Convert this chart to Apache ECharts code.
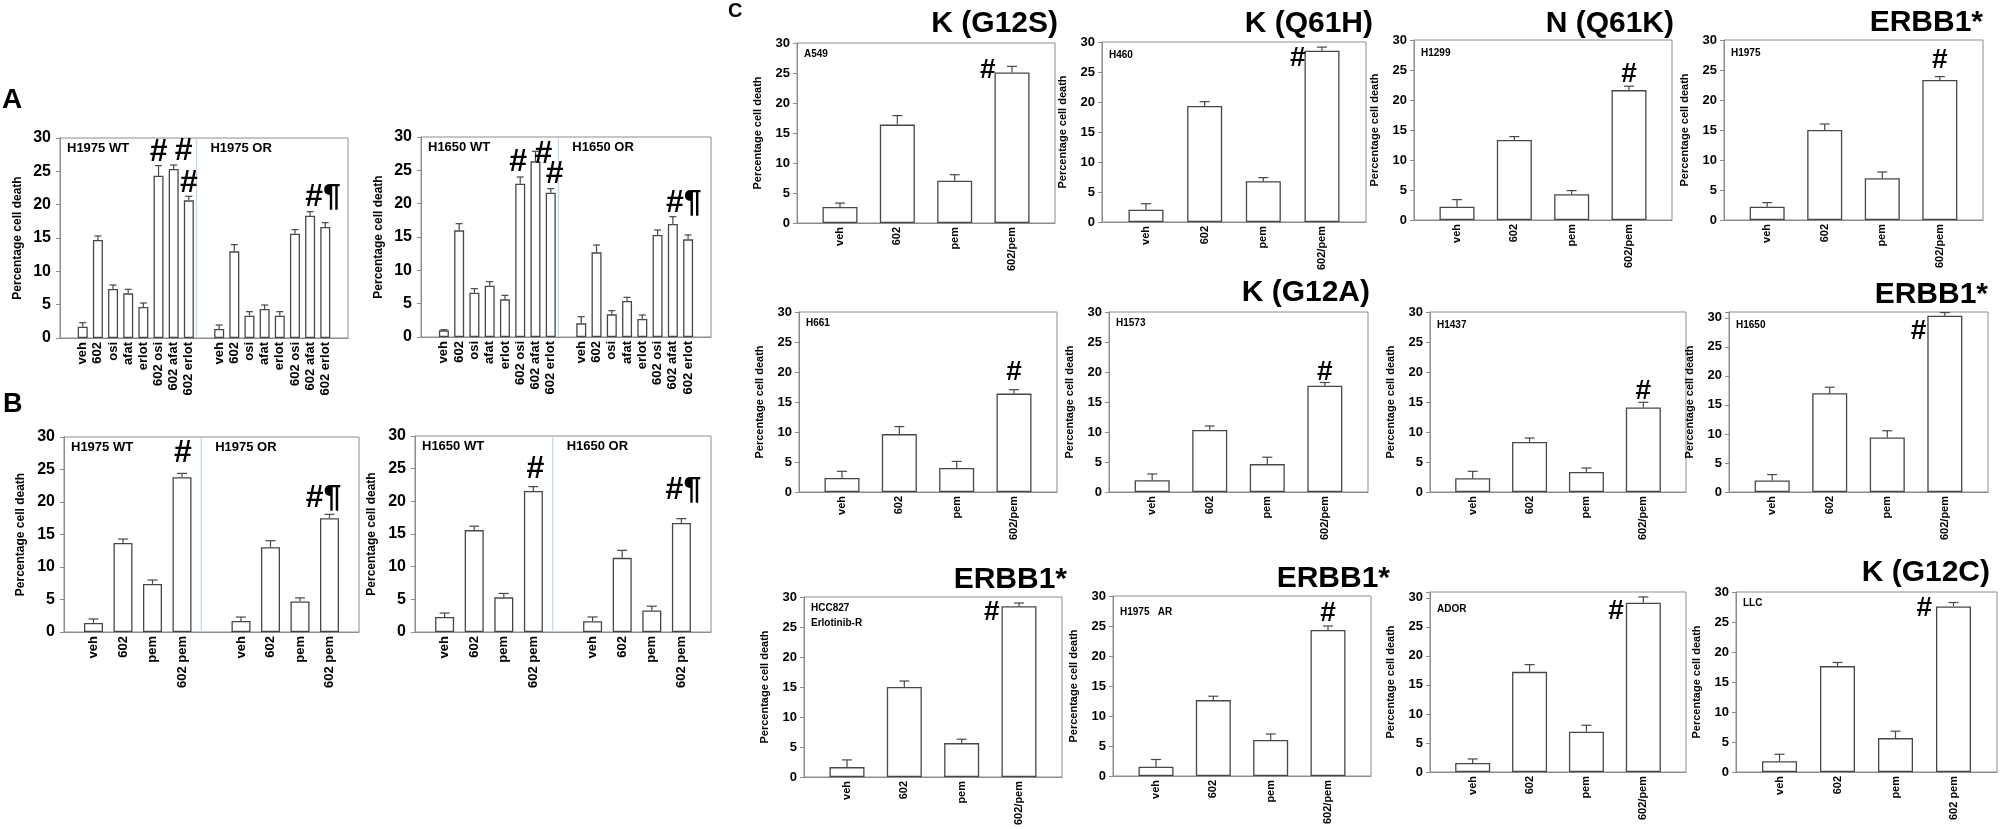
<!DOCTYPE html>
<html>
<head>
<meta charset="utf-8">
<script src="https://cdn.jsdelivr.net/npm/echarts@6/dist/echarts.min.js"></script>
<style>
    html, body { margin: 0; padding: 0; background: #fff; }
    #chart { width: 2008px; height: 829px; }
</style>
</head>
<body>
<div id="chart"></div>
<script>
// treatments on the x axes
const treatA = ['veh', '602', 'osi', 'afat', 'erlot', '602 osi', '602 afat', '602 erlot']
const treatB = ['veh', '602', 'pem', '602 pem']
const treatC = ['veh', '602', 'pem', '602/pem']
const treatLLC = ['veh', '602', 'pem', '602 pem']

// panel A: percentage cell death, mean and error
const h1975WtA = [1.7, 14.7, 7.35, 6.7, 4.65, 24.35, 25.35, 20.65]
const h1975WtAErr = [0.6, 0.6, 0.6, 0.6, 0.6, 1.5, 0.6, 0.6]
const h1975OrA = [1.35, 13.0, 3.35, 4.35, 3.35, 15.65, 18.35, 16.65]
const h1975OrAErr = [0.6, 1.0, 0.6, 0.6, 0.6, 0.6, 0.6, 0.65]
const h1650WtA = [1.0, 16.0, 6.65, 7.7, 5.65, 23.0, 26.35, 21.65]
const h1650WtAErr = [0.1, 1.0, 0.6, 0.6, 0.6, 1.0, 1.5, 0.6]
const h1650OrA = [2.05, 12.7, 3.4, 5.4, 2.7, 15.3, 16.95, 14.65]
const h1650OrAErr = [1.0, 1.1, 0.55, 0.55, 0.6, 0.75, 1.1, 0.65]

// panel B
const h1975WtB = [1.4, 13.7, 7.4, 23.8]
const h1975WtBErr = [0.6, 0.6, 0.6, 0.6]
const h1975OrB = [1.7, 13.05, 4.7, 17.5]
const h1975OrBErr = [0.6, 1.0, 0.55, 0.6]
const h1650WtB = [2.3, 15.6, 5.3, 21.6]
const h1650WtBErr = [0.6, 0.6, 0.6, 0.65]
const h1650OrB = [1.65, 11.35, 3.3, 16.7]
const h1650OrBErr = [0.65, 1.15, 0.65, 0.65]

// panel C
const a549 = [2.67, 16.4, 7.05, 25.1]
const a549Err = [0.65, 1.5, 1.0, 1.0]
const h460 = [2.05, 19.35, 6.8, 28.55]
const h460Err = [1.0, 0.7, 0.6, 0.6]
const h1299 = [2.2, 13.35, 4.3, 21.65]
const h1299Err = [1.2, 0.55, 0.6, 0.65]
const h1975 = [2.2, 15.0, 6.95, 23.35]
const h1975Err = [0.7, 1.0, 1.05, 0.55]
const h661 = [2.35, 9.65, 4.0, 16.4]
const h661Err = [1.1, 1.25, 1.1, 0.65]
const h1573 = [1.95, 10.35, 4.65, 17.7]
const h1573Err = [1.05, 0.65, 1.15, 0.55]
const h1437 = [2.3, 8.35, 3.35, 14.1]
const h1437Err = [1.15, 0.65, 0.65, 0.85]
const h1650 = [2.0, 17.0, 9.4, 30.35]
const h1650Err = [1.0, 1.05, 1.15, 0.55]
const hcc827 = [1.65, 15.0, 5.65, 28.45]
const hcc827Err = [1.2, 1.0, 0.65, 0.55]
const h1975ar = [1.55, 12.65, 6.0, 24.35]
const h1975arErr = [1.2, 0.65, 1.0, 0.65]
const ador = [1.55, 17.25, 6.95, 29.15]
const adorErr = [0.7, 1.25, 1.1, 1.0]
const llc = [1.8, 17.65, 5.65, 27.6]
const llcErr = [1.15, 0.6, 1.15, 0.65]

// significance marks: [group, bar, symbol]
const marksA1975 = [[0, 5, '#'], [0, 6, '#'], [0, 7, '#'], [1, 6, '#¶']]
const marksA1650 = [[0, 5, '#'], [0, 6, '#'], [0, 7, '#'], [1, 6, '#¶']]
const marksB = [[0, 3, '#'], [1, 3, '#¶']]
const marksC = [[0, 3, '#']]

const FONT = '"Liberation Sans", Arial, Helvetica, sans-serif'
const FRAME = '#8c8c8c'
const INK = '#474747'

const kinds = {
    A: { n: 19, gap: true, slot: (g, i) => (g ? 10 : 1) + i, bar: 10, cap: 3.5, tickFont: 16, xFont: 13, nameFont: 12, nameGap: 36, margin: 9, markFont: 32, divider: 8.5 },
    B: { n: 11, gap: false, slot: (g, i) => (g ? 6 : 1) + i, bar: 19, cap: 5, tickFont: 16, xFont: 13, nameFont: 12, nameGap: 37, margin: 9, markFont: 32, divider: 4.65 },
    C: { n: 9, gap: true, slot: (g, i) => 1 + 2 * i, bar: 35, cap: 5, tickFont: 13, xFont: 11, nameFont: 11, nameGap: 34, margin: 7, markFont: 28 }
}

const charts = [
    { kind: 'A', box: [60, 138, 288, 200], cats: [treatA, treatA], vals: [h1975WtA, h1975OrA], errs: [h1975WtAErr, h1975OrAErr], names: ['H1975 WT', 'H1975 OR'], marks: marksA1975, place: [['top', 0, 0], ['top', 10, 0], ['top', 0, 0], ['top', 13, -1]] },
    { kind: 'A', box: [421, 137, 290, 200], cats: [treatA, treatA], vals: [h1650WtA, h1650OrA], errs: [h1650WtAErr, h1650OrAErr], names: ['H1650 WT', 'H1650 OR'], marks: marksA1650, place: [['top', -2, -1], ['top', 8, 16], ['top', 4, -1], ['top', 11, 0]] },
    { kind: 'B', box: [64, 437, 295, 195], cats: [treatB, treatB], vals: [h1975WtB, h1975OrB], errs: [h1975WtBErr, h1975OrBErr], names: ['H1975 WT', 'H1975 OR'], marks: marksB, place: [['top', 1, -7], ['top', -6, -3]] },
    { kind: 'B', box: [415, 436, 296, 196], cats: [treatB, treatB], vals: [h1650WtB, h1650OrB], errs: [h1650WtBErr, h1650OrBErr], names: ['H1650 WT', 'H1650 OR'], marks: marksB, place: [['top', 2, -4], ['top', 2, -15]] },

    { kind: 'C', box: [797, 43, 258, 180], cats: [treatC], vals: [a549], errs: [a549Err], cell: ['A549'], cellDy: 11, marks: marksC, place: [['left', 1, -2]] },
    { kind: 'C', box: [1102, 42, 264, 180], cats: [treatC], vals: [h460], errs: [h460Err], cell: ['H460'], cellDy: 13, marks: marksC, place: [['left', 1, 8]] },
    { kind: 'C', box: [1414, 40, 258, 180], cats: [treatC], vals: [h1299], errs: [h1299Err], cell: ['H1299'], cellDy: 13, marks: marksC, place: [['top', 0, 0]] },
    { kind: 'C', box: [1724, 40, 259, 180], cats: [treatC], vals: [h1975], errs: [h1975Err], cell: ['H1975'], cellDy: 13, marks: marksC, place: [['top', 0, -4]] },

    { kind: 'C', box: [799, 312, 258, 180], cats: [treatC], vals: [h661], errs: [h661Err], cell: ['H661'], cellDy: 11, marks: marksC, place: [['top', 0, -5]] },
    { kind: 'C', box: [1109, 312, 259, 180], cats: [treatC], vals: [h1573], errs: [h1573Err], cell: ['H1573'], cellDy: 11, marks: marksC, place: [['top', 0, 2]] },
    { kind: 'C', box: [1430, 312, 256, 180], cats: [treatC], vals: [h1437], errs: [h1437Err], cell: ['H1437'], cellDy: 13, marks: marksC, place: [['top', 0, 1]] },
    { kind: 'C', box: [1729, 312, 259, 180], ymax: 31, cats: [treatC], vals: [h1650], errs: [h1650Err], cell: ['H1650'], cellDy: 13, marks: marksC, place: [['left', -1, 16]] },

    { kind: 'C', box: [804, 597, 258, 180], cats: [treatC], vals: [hcc827], errs: [hcc827Err], cell: ['HCC827', 'Erlotinib-R'], cellDy: 11, marks: marksC, place: [['left', -2, 6]] },
    { kind: 'C', box: [1113, 596, 258, 180], cats: [treatC], vals: [h1975ar], errs: [h1975arErr], cell: ['H1975   AR'], cellDy: 16, marks: marksC, place: [['top', 0, -1]] },
    { kind: 'C', box: [1430, 592, 256, 180], ymax: 31, cats: [treatC], vals: [ador], errs: [adorErr], cell: ['ADOR'], cellDy: 17, marks: marksC, place: [['left', -2, 9]] },
    { kind: 'C', box: [1736, 592, 261, 180], cats: [treatLLC], vals: [llc], errs: [llcErr], cell: ['LLC'], cellDy: 11, marks: marksC, place: [['left', -4, 2]] }
]

const headings = [
    ['K (G12S)', 1058, 24], ['K (Q61H)', 1373, 24], ['N (Q61K)', 1674, 24], ['ERBB1*', 1983, 23],
    ['K (G12A)', 1370, 293], ['ERBB1*', 1988, 295],
    ['ERBB1*', 1067, 580], ['ERBB1*', 1390, 579], ['K (G12C)', 1990, 573]
]
const letters = [['A', 2, 100, 28], ['B', 3, 405, 27], ['C', 728, 11, 20]]

function txt(text, x, y, size, align) {
    return {
        type: 'text', silent: true,
        style: {
            text: text, x: x, y: y, fill: '#000',
            font: 'bold ' + size + 'px ' + FONT,
            textAlign: align, align: align,
            textVerticalAlign: 'middle', verticalAlign: 'middle'
        }
    }
}

const grid = []
const xAxis = []
const yAxis = []
const series = []
const graphic = []

charts.forEach(function (c, idx) {
    const k = kinds[c.kind]
    const ymax = c.ymax || 30
    const cats = new Array(k.n).fill('')
    const bars = new Array(k.n).fill('-')
    const errData = []
    c.vals.forEach(function (vs, g) {
        vs.forEach(function (v, i) {
            const s = k.slot(g, i)
            cats[s] = c.cats[g][i]
            bars[s] = v
            errData.push([s, v, c.errs[g][i]])
        })
    })
    const markData = c.marks.map(function (m) {
        return [k.slot(m[0], m[1]), c.vals[m[0]][m[1]], c.errs[m[0]][m[1]]]
    })

    grid.push({
        left: c.box[0], top: c.box[1], width: c.box[2], height: c.box[3],
        show: true, borderColor: FRAME, borderWidth: 1, backgroundColor: 'transparent',
        containLabel: false, outerBoundsMode: 'none'
    })
    xAxis.push({
        gridIndex: idx, type: 'category', data: cats, boundaryGap: k.gap,
        axisLine: { show: true, lineStyle: { color: FRAME, width: 1 } },
        axisTick: { show: false },
        splitLine: { show: false },
        axisLabel: {
            interval: 0, rotate: 90, margin: 4, hideOverlap: false,
            color: '#000', fontSize: k.xFont, fontWeight: 'bold', fontFamily: FONT
        }
    })
    yAxis.push({
        gridIndex: idx, type: 'value', min: 0, max: ymax, interval: 5,
        name: 'Percentage cell death', nameLocation: 'middle', nameGap: k.nameGap,
        nameTextStyle: { color: '#000', fontSize: k.nameFont, fontWeight: 'bold', fontFamily: FONT },
        axisLine: { show: true, lineStyle: { color: FRAME, width: 1 } },
        axisTick: { show: true, inside: false, length: 4, lineStyle: { color: FRAME } },
        splitLine: { show: false },
        axisLabel: {
            margin: k.margin, color: '#000', fontSize: k.tickFont, fontWeight: 'bold', fontFamily: FONT,
            formatter: function (v) { return v > 30 ? '' : String(v) }
        }
    })
    series.push({
        type: 'bar', xAxisIndex: idx, yAxisIndex: idx, data: bars, barWidth: k.bar,
        itemStyle: { color: '#fff', borderColor: INK, borderWidth: 1.3 },
        silent: true, z: 2
    })
    series.push({
        type: 'custom', xAxisIndex: idx, yAxisIndex: idx, data: errData, silent: true, z: 3,
        encode: { x: 0, y: 1 },
        renderItem: function (params, api) {
            const s = api.value(0), v = api.value(1), e = api.value(2)
            const p0 = api.coord([s, v]), p1 = api.coord([s, v + e])
            const st = { stroke: INK, lineWidth: 1.2 }
            return {
                type: 'group', children: [
                    { type: 'line', shape: { x1: p0[0], y1: p0[1], x2: p1[0], y2: p1[1] }, style: st },
                    { type: 'line', shape: { x1: p1[0] - k.cap, y1: p1[1], x2: p1[0] + k.cap, y2: p1[1] }, style: st }
                ]
            }
        }
    })
    series.push({
        type: 'custom', xAxisIndex: idx, yAxisIndex: idx, data: markData, silent: true, z: 4,
        encode: { x: 0, y: 1 },
        renderItem: function (params, api) {
            const pl = c.place[params.dataIndex]
            const text = c.marks[params.dataIndex][2]
            const s = api.value(0), v = api.value(1), e = api.value(2)
            const pBar = api.coord([s, v]), pErr = api.coord([s, v + e])
            if (pl[0] === 'top') {
                return txt(text, pBar[0] + pl[1], pErr[1] - 2 - 0.36 * k.markFont + pl[2], k.markFont, 'center')
            }
            return txt(text, pBar[0] - k.bar / 2 + pl[1], pBar[1] + pl[2], k.markFont, 'right')
        }
    })
    if (c.names) {
        // the light divider between the two cell lines, and their names
        series.push({
            type: 'custom', xAxisIndex: idx, yAxisIndex: idx, data: [[0, 0]], silent: true, z: 1,
            encode: { x: 0, y: 1 },
            renderItem: function (params, api) {
                const cs = params.coordSys
                const f = Math.floor(k.divider)
                const xa = api.coord([f, 0])[0], xb = api.coord([f + 1, 0])[0]
                const x = xa + (k.divider - f) * (xb - xa)
                return {
                    type: 'group', children: [
                        { type: 'line', shape: { x1: x, y1: cs.y + 1, x2: x, y2: cs.y + cs.height }, style: { stroke: '#bdd7ee', lineWidth: 1.2 } },
                        txt(c.names[0], cs.x + 7, cs.y + 10, 13, 'left'),
                        txt(c.names[1], x + 14, cs.y + 10, 13, 'left')
                    ]
                }
            }
        })
    }
    if (c.cell) {
        c.cell.forEach(function (line, j) {
            graphic.push(txt(line, c.box[0] + 7, c.box[1] + c.cellDy + 15 * j, 10, 'left'))
        })
    }
})

headings.forEach(function (h) { graphic.push(txt(h[0], h[1], h[2], 30, 'right')) })
letters.forEach(function (l) { graphic.push(txt(l[0], l[1], l[2], l[3], 'left')) })

const chart = echarts.init(document.getElementById('chart'))
chart.setOption({
    animation: false,
    backgroundColor: '#fff',
    grid: grid,
    xAxis: xAxis,
    yAxis: yAxis,
    series: series,
    graphic: graphic
})
</script>
</body>
</html>
